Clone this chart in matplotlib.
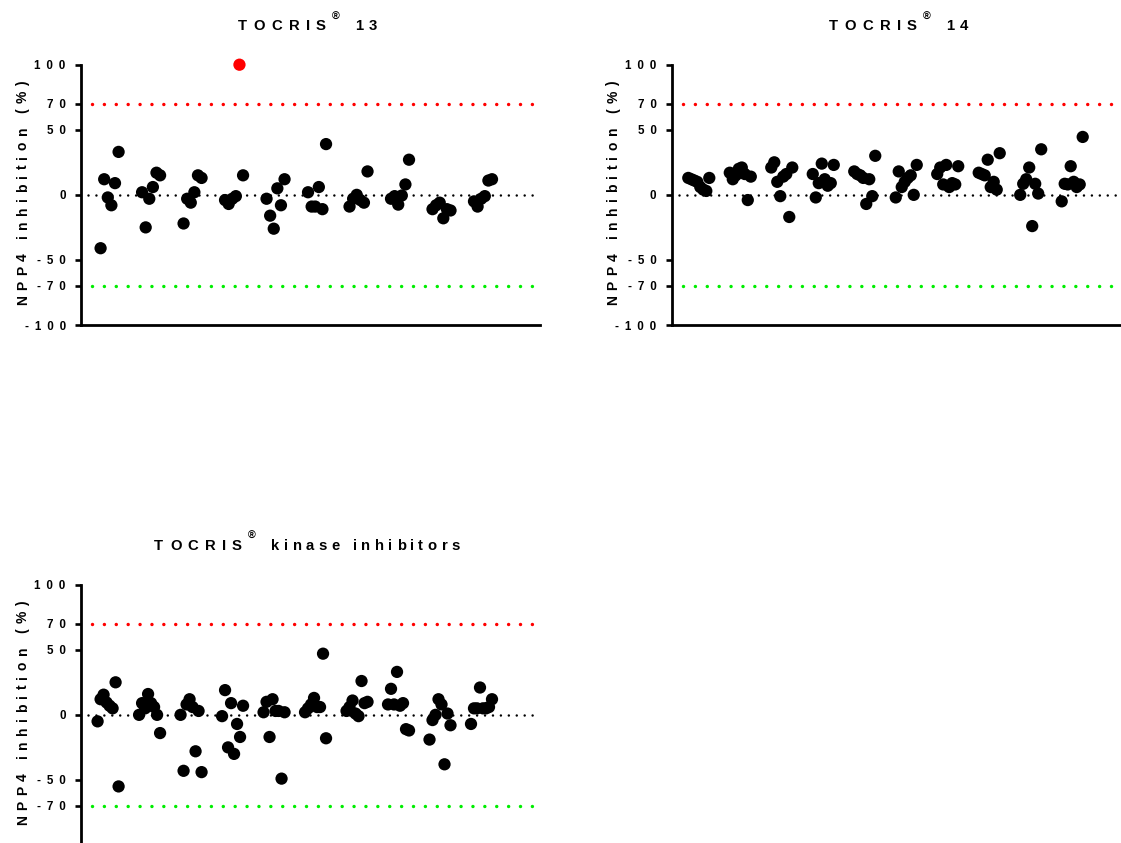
import matplotlib
matplotlib.use("Agg")
import matplotlib.pyplot as plt
import numpy as np
from matplotlib import font_manager
from matplotlib.ft2font import FT2Font

plt.rcParams["font.family"] = ["Liberation Sans", "DejaVu Sans"]
plt.rcParams["font.weight"] = "bold"
plt.rcParams["lines.scale_dashes"] = False

# NPP4 inhibition (%) per compound, one row per plate column
tocris13 = [
    [-41, 12, -2, -8, 9, 33],
    [2, -25, -3, 6, 17, 15],
    [-22, -3, -6, 2, 15, 13],
    [-4, -7, -3, -1, 100, 15],
    [-3, -16, -26, 5, -8, 12],
    [2, -9, -9, 6, -11, 39],
    [-9, -3, 0, -4, -6, 18],
    [-3, -1, -7.5, -0.5, 8, 27],
    [-11, -8, -6, -18, -11, -12],
    [-5, -9, -3, -1, 11, 12],
]
tocris14 = [
    [13, 12, 11, 10, 6, 4, 3, 13],
    [17, 12, 15, 20, 21, 16, -4, 14],
    [21, 25, 10, -1, 14, 16, -17, 21],
    [16, -2, 9, 24, 12, 7, 9, 23],
    [18, 16, 15, 13, -7, 12, -1, 30],
    [-2, 18, 6, 10, 13, 15, 0, 23],
    [16, 21, 8, 23, 6, 9, 8, 22],
    [17, 16, 15, 27, 6, 10, 4, 32],
    [0, 8.5, 12, 21, -24, 8.5, 1, 35],
    [-5, 8.5, 8, 22, 10, 6, 8, 44.5],
]
kinase = [
    [-5, 12, 15.5, 9.5, 7, 5, 25, -55],
    [0, 9, 5, 16, 9, 6, 0, -14],
    [0, -43, 8, 12, 6, -28, 3, -44],
    [-1, 19, -25, 9, -30, -7, -17, 7],
    [2, 10, -17, 12, 3, 3, -49, 2],
    [2, 5, 8, 13, 6, 6, 47, -18],
    [3, 6, 11, 1, -1, 26, 9, 10],
    [8, 20, 8, 33, 7, 9, -11, -12],
    [-19, -4, 0, 12, 8, -38, 1, -8],
    [-7, 5, 5, 21, 5, 5, 6, 12],
]

brand = "TOCRIS"
title_suffix = ["13", "14", "kinase inhibitors"]
ylabel = "NPP4 inhibition (%)"
yticks = [-100, -70, -50, 0, 50, 70, 100]
hit_hi, hit_lo = 70, -70

W, H = 1121, 843
DPI = 100
fig = plt.figure(figsize=(W / DPI, H / DPI), dpi=DPI)

SP = "\u2002"

_fp = font_manager.FontProperties(family="Liberation Sans", weight="bold")
_ft = FT2Font(font_manager.findfont(_fp))


def glyph_metrics(c, size):
    _ft.set_size(size, DPI)
    g = _ft.load_char(ord(c))
    return g.linearHoriAdvance / 65536.0, g.horiBearingX / 64.0


def tracked_text(x, y, items, extra, rotation=0, extra_lower=None):
    """Letter-spaced text centred at pixel (x, y) on its baseline.
    items: list of (char, size_pt, raise_px)."""
    if extra_lower is None:
        extra_lower = extra
    adv = [glyph_metrics(c, s) for c, s, _ in items]
    gaps = [extra_lower if (c.islower() or c == " ") else extra
            for c, _, _ in items[:-1]]
    total = sum(a for a, _ in adv) + sum(gaps)
    pos = -total / 2
    for k, ((c, s, r), (a, lsb)) in enumerate(zip(items, adv)):
        if c != " ":
            if rotation == 0:
                px, py = x + pos + lsb, y - r
            else:
                px, py = x - r, y - (pos + lsb)
            fig.text(px / W, 1 - py / H, c, fontsize=s, fontweight="bold",
                     ha="left", va="baseline", rotation=rotation,
                     rotation_mode="anchor", family="Liberation Sans")
        pos += a + (gaps[k] if k < len(gaps) else 0)


def spaced(s):
    return SP.join(s)


def axes_px(left, top, w, h):
    return fig.add_axes([left / W, 1 - (top + h) / H, w / W, h / H])


GROUP_STEP = 13.83


def draw_panel(ax, data, step, offset, suffix, title_xy, ylab_xy, ticks):
    for g, row in enumerate(data):
        vals = np.asarray(row, dtype=float)
        xs = offset + g * GROUP_STEP + np.arange(len(vals)) * step
        cols = np.where(vals >= hit_hi, "#ff0000", "#000000")
        ax.scatter(xs, vals, s=78, c=cols, linewidths=0, zorder=5, clip_on=False)

    ax.plot([-1.7, 146.6], [hit_hi, hit_hi], color="#ff0000", lw=2.5,
            linestyle=(0, (0.01, 8.55)), dash_capstyle="round", zorder=2)
    ax.plot([-1.7, 146.6], [hit_lo, hit_lo], color="#00ee00", lw=2.5,
            linestyle=(0, (0.01, 8.55)), dash_capstyle="round", zorder=2)
    ax.plot([-3.1, 147.4], [0, 0], color="#000000", lw=1.8,
            linestyle=(0, (0.01, 5.7)), dash_capstyle="round", zorder=2)

    ax.set_xlim(-5.53, 147.47)
    ax.set_ylim(-100, 100)
    ax.set_xticks([])
    ax.set_yticks(ticks)
    ax.set_yticklabels([spaced(str(v)) for v in ticks], fontsize=8.4,
                       fontweight="bold")
    ax.tick_params(axis="y", length=4.5, width=1.9, pad=6.5)
    for s in ("top", "right"):
        ax.spines[s].set_visible(False)
    for s in ("left", "bottom"):
        ax.spines[s].set_linewidth(2.0)

    items = [(c, 10.7, 0) for c in brand]
    items.append(("\u00ae", 7.6, 10.5))
    items.append((" ", 10.7, 0))
    items += [(c, 10.7, 0) for c in suffix]
    tracked_text(title_xy[0], title_xy[1], items, 6.3, extra_lower=4.4)

    tracked_text(ylab_xy[0], ylab_xy[1], [(c, 10.0, 0) for c in ylabel], 5.4,
                 rotation=90)


ax1 = axes_px(81, 64.7, 459, 260.3)
draw_panel(ax1, tocris13, 1.2, 1.0, title_suffix[0], (307, 30), (26.7, 193.5),
           yticks)

ax2 = axes_px(671.7, 64.7, 459, 260.3)
draw_panel(ax2, tocris14, 1.0, 0.0, title_suffix[1], (898, 30), (617.4, 193.5),
           yticks)

ax3 = axes_px(81, 584.7, 459, 260.3)
draw_panel(ax3, kinase, 1.0, 0.0, title_suffix[2], (306.5, 549.5),
           (26.7, 713.5), yticks[1:])

fig.savefig("out.png", dpi=DPI)
